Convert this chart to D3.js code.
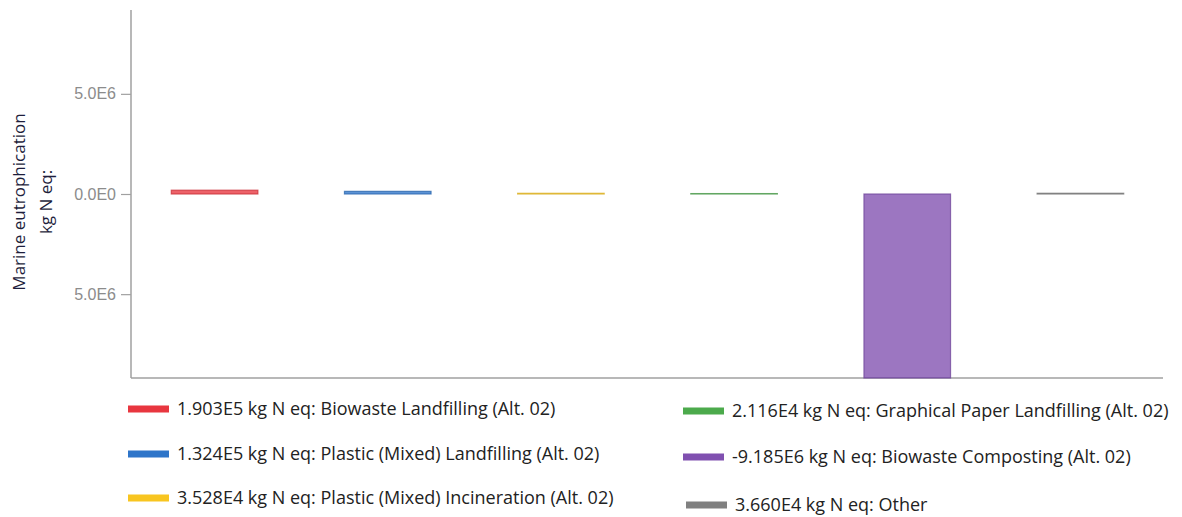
<!DOCTYPE html>
<html>
<head>
<meta charset="utf-8">
<script src="https://cdn.jsdelivr.net/npm/d3@7"></script>
<style>
  html, body { margin: 0; padding: 0; background: #fff; }
  svg { display: block; font-family: "Open Sans", "Noto Sans", sans-serif; }
</style>
</head>
<body>
<svg id="chart" width="1182" height="517"></svg>
<script>
// Contributions to marine eutrophication (kg N eq)
const categories = [
  "Biowaste Landfilling (Alt. 02)",
  "Plastic (Mixed) Landfilling (Alt. 02)",
  "Plastic (Mixed) Incineration (Alt. 02)",
  "Graphical Paper Landfilling (Alt. 02)",
  "Biowaste Composting (Alt. 02)",
  "Other"
];
const values = [1.903e5, 1.324e5, 3.528e4, 2.116e4, -9.185e6, 3.660e4];
const valueLabels = ["1.903E5", "1.324E5", "3.528E4", "2.116E4", "-9.185E6", "3.660E4"];
const colors = ["#e8363f", "#2e75c9", "#f8c520", "#4caa4c", "#8050b0", "#808080"];
const tickValues = [5e6, 0, -5e6];
const tickLabels = ["5.0E6", "0.0E0", "5.0E6"];
const unit = "kg N eq";
const axisTitle = ["Marine eutrophication", "kg N eq:"];

const svg = d3.select("#chart");
const axisColor = "#a0a0a0";

const maxAbs = d3.max(values, v => Math.abs(v));
const y = d3.scaleLinear().domain([-maxAbs, maxAbs]).range([378, 10]);
const x = d3.scaleBand().domain(categories).range([128, 1167]).paddingInner(0.5).paddingOuter(0.25);

// y axis
const yAxis = d3.axisLeft(y).tickValues(tickValues)
  .tickFormat((d, i) => tickLabels[i]).tickSize(10).tickPadding(5);
const gy = svg.append("g").attr("transform", "translate(131,0)").call(yAxis);
gy.select(".domain").remove();
gy.selectAll(".tick line").attr("stroke", axisColor).attr("stroke-width", 1.2);
gy.selectAll(".tick text").attr("fill", "#8c8c8c").style("font-size", "16px");

svg.append("line").attr("x1", 131).attr("x2", 131).attr("y1", 10).attr("y2", 378)
  .attr("stroke", axisColor).attr("stroke-width", 1.5);
svg.append("line").attr("x1", 131).attr("x2", 1163).attr("y1", 378).attr("y2", 378)
  .attr("stroke", axisColor).attr("stroke-width", 1.5);

// axis title
const title = svg.append("text")
  .attr("transform", "translate(25,202) rotate(-90)")
  .attr("text-anchor", "middle")
  .attr("fill", "#1e1e3c")
  .style("font-size", "17px");
axisTitle.forEach((t, i) => {
  title.append("tspan").attr("x", 0).attr("dy", i === 0 ? 0 : 27).text(t);
});

// bars
svg.append("g").selectAll("rect").data(values).join("rect")
  .attr("x", (d, i) => x(categories[i]))
  .attr("width", x.bandwidth())
  .attr("y", d => y(Math.max(0, d)))
  .attr("height", d => Math.abs(y(d) - y(0)))
  .attr("fill", (d, i) => colors[i])
  .attr("fill-opacity", 0.78)
  .attr("stroke", (d, i) => d3.color(colors[i]).darker(0.4))
  .attr("stroke-opacity", 0.75)
  .attr("stroke-width", 1.2);

// legend
const legendPos = [
  [128, 409], [128, 454], [128, 498],
  [683, 411], [683, 457], [686, 505]
];
const lg = svg.append("g").selectAll("g").data(categories).join("g")
  .attr("transform", (d, i) => `translate(${legendPos[i][0]},${legendPos[i][1]})`);
lg.append("rect").attr("x", 0).attr("y", -3.5).attr("width", 41).attr("height", 7)
  .attr("fill", (d, i) => colors[i]);
lg.append("text").attr("x", 49).attr("y", 0).attr("dy", "0.35em")
  .attr("fill", "#222").style("font-size", "18px")
  .text((d, i) => `${valueLabels[i]} ${unit}: ${d}`);
</script>
</body>
</html>
